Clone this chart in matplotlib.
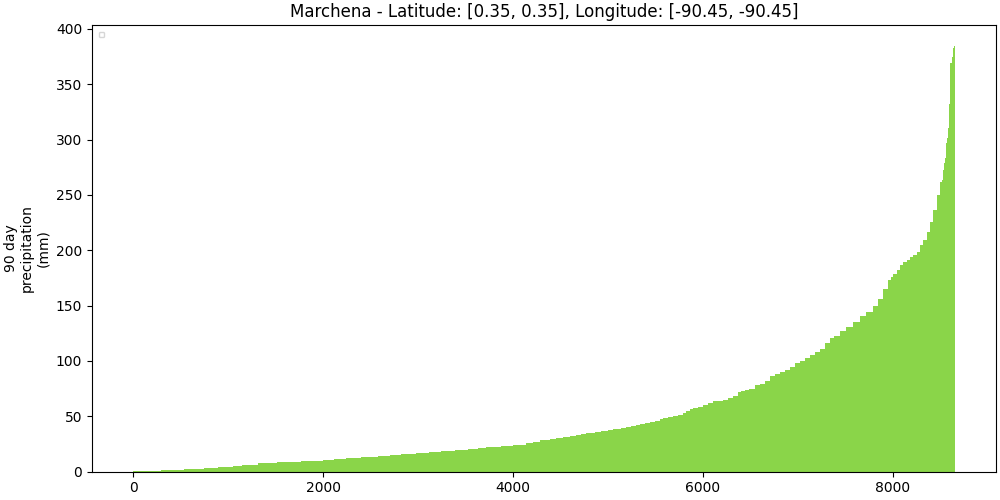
import matplotlib

matplotlib.use("Agg")
import matplotlib.pyplot as plt
import numpy as np

# sorted 90-day precipitation totals, read off the picture as a staircase:
# each step starts at bar_starts[i] and keeps bar_values[i] until the next start
bar_starts = [
    0, 290, 540, 750, 890, 1050, 1150, 1310, 1520, 1770, 2000, 2120, 2240, 2400,
    2575, 2700, 2820, 2980, 3120, 3245, 3385, 3525, 3630, 3720, 3875, 4000, 4140,
    4210, 4280, 4385, 4455, 4525, 4595, 4665, 4720, 4770, 4860, 4930, 5000, 5050,
    5140, 5195, 5245, 5300, 5335, 5385, 5440, 5490, 5545, 5580, 5630, 5685, 5740,
    5790, 5825, 5860, 5895, 5950, 6000, 6055, 6105, 6160, 6210, 6265, 6315, 6370,
    6405, 6440, 6490, 6545, 6600, 6650, 6705, 6755, 6810, 6860, 6915, 6965, 7020,
    7070, 7125, 7180, 7230, 7285, 7335, 7380, 7440, 7510, 7580, 7650, 7720, 7790,
    7845, 7900, 7950, 7975, 8000, 8040, 8075, 8110, 8145, 8180, 8215, 8250, 8285,
    8320, 8355, 8390, 8425, 8460, 8495, 8515, 8525, 8535, 8545, 8555, 8562, 8572,
    8583, 8590, 8600, 8618, 8628, 8642,
]
bar_values = [
    0.6, 1.8, 2.7, 3.6, 4.5, 5.4, 6.3, 7.3, 8.2, 9.1, 10.0, 10.9, 11.8, 12.7,
    13.6, 14.5, 15.4, 16.3, 17.2, 18.1, 19.0, 19.9, 20.9, 21.8, 23.0, 24.2, 26.0,
    26.9, 28.1, 29.0, 29.9, 30.8, 31.7, 32.7, 33.6, 34.5, 35.4, 36.3, 37.2, 38.1,
    39.0, 39.9, 40.8, 42.0, 42.6, 43.5, 44.7, 46.0, 47.2, 48.1, 49.0, 49.9, 51.1,
    53.2, 54.7, 56.2, 57.4, 58.7, 60.5, 61.7, 63.5, 64.1, 65.0, 66.2, 68.3, 71.4,
    73.2, 74.0, 75.0, 78.0, 79.5, 81.9, 86.4, 88.0, 90.1, 91.9, 94.6, 98.0, 100.0,
    102.5, 105.5, 107.6, 110.7, 116.1, 120.3, 122.7, 127.3, 130.9, 135.4, 140.9,
    144.5, 149.9, 156.0, 165.0, 173.5, 175.7, 178.7, 181.7, 186.2, 189.3, 190.8,
    193.8, 195.3, 198.3, 204.4, 208.9, 216.5, 225.5, 236.1, 249.7, 261.2, 263.3,
    272.4, 278.5, 283.0, 290.5, 296.6, 301.0, 310.0, 332.0, 369.0, 375.0, 383.0,
    384.3,
]
n_days = 8653
assert len(bar_starts) == len(bar_values)

title = "Marchena - Latitude: [0.35, 0.35], Longitude: [-90.45, -90.45]"
y_label = "90 day\nprecipitation\n(mm)"

edges = np.array(bar_starts + [n_days])

fig, ax = plt.subplots(figsize=(10, 5), dpi=100)
fig.subplots_adjust(left=0.092, right=0.996, top=0.95, bottom=0.057)

ax.bar(edges[:-1], bar_values, width=np.diff(edges), align="edge",
       color="#8ad549", linewidth=0)

ax.set_title(title)
ax.set_ylabel(y_label)
# the original calls legend() with nothing labelled: a tiny empty box
ax.legend(loc="upper left", fontsize=4, borderaxespad=1.3)

fig.savefig("out.png")
